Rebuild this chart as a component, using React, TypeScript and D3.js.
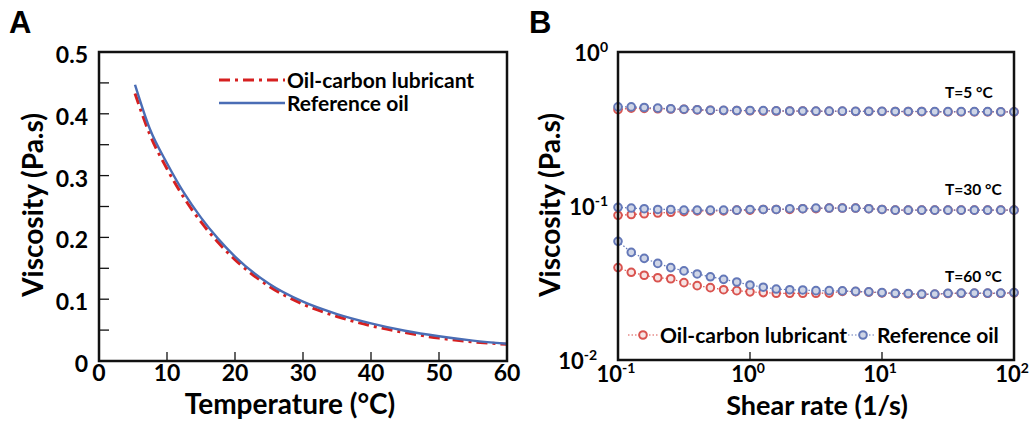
import * as d3 from 'd3';

// Panel A: viscosity vs temperature
const tempA = [5.3, 7.5, 10, 12.5, 15, 17.5, 20, 25, 30, 35, 40, 45, 50, 55, 60];
const refOilA = [0.447, 0.375, 0.32, 0.272, 0.232, 0.198, 0.169, 0.125, 0.096, 0.076, 0.061, 0.049, 0.04, 0.033, 0.028];
const oilCarbonA = [0.433, 0.366, 0.311, 0.264, 0.225, 0.192, 0.164, 0.121, 0.092, 0.072, 0.057, 0.046, 0.037, 0.031, 0.027];

// Panel B: viscosity vs shear rate (10 points per decade)
const shearRates = [
  0.1, 0.126, 0.158, 0.2, 0.251, 0.316, 0.398, 0.501, 0.631, 0.794,
  1, 1.26, 1.58, 2, 2.51, 3.16, 3.98, 5.01, 6.31, 7.94,
  10, 12.6, 15.8, 20, 25.1, 31.6, 39.8, 50.1, 63.1, 79.4, 100,
];
const ref5 = [
  0.44, 0.44, 0.436, 0.432, 0.428, 0.425, 0.422, 0.419, 0.418, 0.417,
  0.417, 0.416, 0.415, 0.414, 0.414, 0.413, 0.413, 0.413, 0.412, 0.412,
  0.412, 0.411, 0.411, 0.411, 0.41, 0.41, 0.41, 0.41, 0.41, 0.409, 0.409,
];
const oil5 = [
  0.422, 0.432, 0.43, 0.428, 0.426, 0.424, 0.421, 0.418, 0.417, 0.416,
  0.415, 0.414, 0.414, 0.413, 0.413, 0.412, 0.412, 0.412, 0.411, 0.411,
  0.411, 0.41, 0.41, 0.41, 0.409, 0.409, 0.409, 0.409, 0.409, 0.408, 0.408,
];
const ref30 = [
  0.098, 0.097, 0.096, 0.095, 0.095, 0.094, 0.094, 0.094, 0.094, 0.094,
  0.095, 0.095, 0.095, 0.096, 0.096, 0.097, 0.097, 0.097, 0.097, 0.096,
  0.095, 0.094, 0.094, 0.094, 0.094, 0.094, 0.094, 0.094, 0.094, 0.094, 0.094,
];
const oil30 = [
  0.087, 0.088, 0.089, 0.09, 0.091, 0.092, 0.093, 0.093, 0.093, 0.094,
  0.094, 0.095, 0.095, 0.095, 0.096, 0.096, 0.097, 0.097, 0.097, 0.096,
  0.095, 0.094, 0.094, 0.094, 0.094, 0.094, 0.094, 0.094, 0.094, 0.094, 0.094,
];
const ref60 = [
  0.059, 0.05, 0.0457, 0.0424, 0.0398, 0.0379, 0.0362, 0.0347, 0.0334, 0.0321,
  0.0307, 0.0297, 0.0289, 0.0286, 0.0285, 0.0282, 0.0282, 0.0281, 0.0279, 0.0277,
  0.0274, 0.0271, 0.027, 0.0268, 0.0268, 0.0271, 0.0272, 0.0272, 0.0272, 0.0272, 0.0274,
];
const oil60 = [
  0.0398, 0.0371, 0.0355, 0.0342, 0.0337, 0.0318, 0.0304, 0.0295, 0.0286, 0.0282,
  0.0277, 0.0274, 0.0271, 0.0271, 0.0271, 0.0271, 0.0272, 0.0279, 0.0278, 0.0276,
  0.0273, 0.027, 0.0269, 0.0267, 0.0267, 0.027, 0.0271, 0.0271, 0.0271, 0.0271, 0.0273,
];
const tempLabels = ['T=5 °C', 'T=30 °C', 'T=60 °C'];

const font = 'Lato, "Open Sans", sans-serif';
const RED = '#d62020';
const BLUE = '#4a6db5';
const MRED = '#d9534f';
const MBLUE = '#6478b8';

function PanelA() {
  const left = 99, right = 507, top = 52, bottom = 361;
  const x = d3.scaleLinear().domain([0, 60]).range([left, right]);
  const y = d3.scaleLinear().domain([0, 0.5]).range([bottom, top]);
  const line = d3
    .line<number>()
    .x((_, i) => x(tempA[i]))
    .y((d) => y(d))
    .curve(d3.curveMonotoneX);
  const yTicks = [0, 0.1, 0.2, 0.3, 0.4, 0.5];
  const yMinor = d3.range(0.05, 0.5, 0.05);
  const xTicks = [0, 10, 20, 30, 40, 50, 60];

  return (
    <g fontFamily={font} fontWeight="bold">
      <text x={9} y={33} fontSize={31} fontFamily="Liberation Sans, Arial, sans-serif">A</text>
      {yMinor.map((t) => (
        <line key={t} x1={left} x2={left + 10} y1={y(t)} y2={y(t)} stroke="#111" strokeWidth={1.3} />
      ))}
      {xTicks.slice(1, -1).map((t) => (
        <line key={t} x1={x(t)} x2={x(t)} y1={bottom} y2={bottom - 9} stroke="#111" strokeWidth={1.3} />
      ))}
      <path d={line(oilCarbonA) ?? ''} fill="none" stroke={RED} strokeWidth={3} strokeDasharray="11,5,3,5" />
      <path d={line(refOilA) ?? ''} fill="none" stroke={BLUE} strokeWidth={2.4} />
      <rect x={left} y={top} width={right - left} height={bottom - top} fill="none" stroke="#111" strokeWidth={2.5} />
      {yTicks.map((t) => (
        <text key={t} x={88} y={y(t) + 2} fontSize={23} textAnchor="end" dominantBaseline="central">
          {t === 0 ? '0' : t.toFixed(1)}
        </text>
      ))}
      {xTicks.map((t) => (
        <text key={t} x={x(t)} y={381} fontSize={23} textAnchor="middle">{t}</text>
      ))}
      <text x={290} y={414} fontSize={28} textAnchor="middle">Temperature (°C)</text>
      <text transform="translate(43,205) rotate(-90)" fontSize={28} textAnchor="middle">Viscosity (Pa.s)</text>
      {/* legend */}
      <line x1={219} x2={285} y1={80} y2={80} stroke={RED} strokeWidth={3} strokeDasharray="11,5,3,5" />
      <text x={287} y={88} fontSize={21}>Oil-carbon lubricant</text>
      <line x1={219} x2={285} y1={103} y2={103} stroke={BLUE} strokeWidth={2.4} />
      <text x={287} y={111} fontSize={21}>Reference oil</text>
    </g>
  );
}

function Pow({ x, y, exp, anchor }: { x: number; y: number; exp: number; anchor: string }) {
  return (
    <text x={x} y={y} fontSize={22} textAnchor={anchor}>
      10
      <tspan fontSize={14} dy={-9}>{exp}</tspan>
    </text>
  );
}

function PanelB() {
  const left = 618, right = 1014, top = 52, bottom = 360;
  const x = d3.scaleLog().domain([0.1, 100]).range([left, right]);
  const y = d3.scaleLog().domain([0.01, 1]).range([bottom, top]);
  const line = d3
    .line<number>()
    .x((_, i) => x(shearRates[i]))
    .y((d) => y(d));
  const oilSeries = [oil5, oil30, oil60];
  const refSeries = [ref5, ref30, ref60];
  const labelY = [98, 195, 282];

  const series = (vals: number[], stroke: string, fill: string, key: string) => (
    <g key={key}>
      <path d={line(vals) ?? ''} fill="none" stroke={stroke} strokeWidth={1.2} strokeDasharray="1.5,2" />
      {vals.map((v, i) => (
        <circle key={i} cx={x(shearRates[i])} cy={y(v)} r={3.8} fill={fill} stroke={stroke} strokeWidth={2} />
      ))}
    </g>
  );

  return (
    <g fontFamily={font} fontWeight="bold">
      <text x={529} y={33} fontSize={31} fontFamily="Liberation Sans, Arial, sans-serif">B</text>
      {[1, 10].map((t) => (
        <line key={t} x1={x(t)} x2={x(t)} y1={bottom} y2={bottom - 8} stroke="#111" strokeWidth={1.3} />
      ))}
      {oilSeries.map((s, i) => series(s, MRED, '#f6e4e4', 'o' + i))}
      {refSeries.map((s, i) => series(s, MBLUE, '#cfd5e6', 'r' + i))}
      <rect x={left} y={top} width={right - left} height={bottom - top} fill="none" stroke="#111" strokeWidth={2.5} />
      {tempLabels.map((t, i) => (
        <text key={t} x={945} y={labelY[i]} fontSize={15.5}>{t}</text>
      ))}
      {[0, -1, -2].map((e) => (
        <Pow key={e} x={e === -2 ? 597 : 608} y={y(Math.pow(10, e)) + 9} exp={e} anchor="end" />
      ))}
      {[-1, 0, 1, 2].map((e) => (
        <Pow key={e} x={x(Math.pow(10, e)) - 2} y={382} exp={e} anchor="middle" />
      ))}
      <text x={817} y={415} fontSize={27} textAnchor="middle">Shear rate (1/s)</text>
      <text transform="translate(560,205) rotate(-90)" fontSize={28} textAnchor="middle">Viscosity (Pa.s)</text>
      {/* legend */}
      <line x1={628} x2={658} y1={335} y2={335} stroke={MRED} strokeWidth={1.2} strokeDasharray="1.5,2" />
      <circle cx={643} cy={335} r={3.8} fill="#f6e4e4" stroke={MRED} strokeWidth={2} />
      <text x={660} y={343} fontSize={21}>Oil-carbon lubricant</text>
      <line x1={848} x2={876} y1={335} y2={335} stroke={MBLUE} strokeWidth={1.2} strokeDasharray="1.5,2" />
      <circle cx={863} cy={335} r={3.8} fill="#cfd5e6" stroke={MBLUE} strokeWidth={2} />
      <text x={877} y={343} fontSize={21}>Reference oil</text>
    </g>
  );
}

export default function App() {
  return (
    <svg
      width={1031}
      height={423}
      style={{ position: 'absolute', left: 0, top: 0, background: '#fff' }}
    >
      <PanelA />
      <PanelB />
    </svg>
  );
}
